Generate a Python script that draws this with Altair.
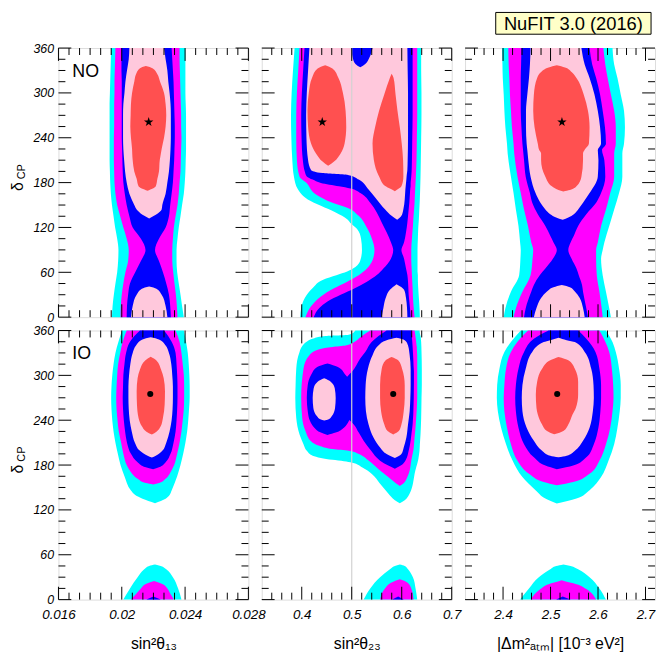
import altair as alt
import pandas as pd

# ---------------- tick values / labels ----------------
Y_MAJOR = [0, 60, 120, 180, 240, 300, 360]
Y_MINOR = [15, 30, 45, 75, 90, 105, 135, 150, 165, 195, 210, 225, 255, 270, 285, 315, 330, 345]
X13_MAJOR = [0.016, 0.02, 0.024, 0.028]
X13_MINOR = [0.016667, 0.017333, 0.018, 0.018667, 0.019333, 0.020667, 0.021333, 0.022,
             0.022667, 0.023333, 0.024667, 0.025333, 0.026, 0.026667, 0.027333]
X23_MAJOR = [0.4, 0.5, 0.6, 0.7]
X23_MINOR = [0.34, 0.36, 0.38, 0.42, 0.44, 0.46, 0.48, 0.52, 0.54, 0.56, 0.58, 0.62, 0.64, 0.66, 0.68]
XDM_MAJOR = [2.4, 2.5, 2.6, 2.7]
XDM_MINOR = [2.34, 2.36, 2.38, 2.42, 2.44, 2.46, 2.48, 2.52, 2.54, 2.56, 2.58, 2.62, 2.64, 2.66, 2.68]
MID_LINE = [0.5]

# ---------------- best-fit points ----------------
NO_BEST = {"s13": (0.0217, 261), "s23": (0.441, 261), "dm": (2.524, 261)}
IO_BEST = {"s13": (0.0218, 275), "s23": (0.583, 275), "dm": (2.514, 275)}

# ---------------- contour regions: (delta_CP, left, right) ----------------
# NO, sin^2 theta13
NO13_CYAN = [(0, 0.01938, 0.02392), (15, 0.01942, 0.02381), (30, 0.0195, 0.02371), (45, 0.0196, 0.0236),
             (60, 0.01971, 0.0235), (75, 0.01977, 0.02346), (90, 0.01979, 0.02346), (105, 0.01971, 0.02352),
             (120, 0.01958, 0.0236), (135, 0.01948, 0.02371), (150, 0.01938, 0.02381), (165, 0.01931, 0.02392),
             (180, 0.01927, 0.02398), (195, 0.01925, 0.02402), (210, 0.01923, 0.02404), (225, 0.01923, 0.02406),
             (240, 0.01923, 0.02406), (255, 0.01923, 0.02406), (270, 0.01923, 0.02406), (285, 0.01923, 0.02404),
             (300, 0.01925, 0.02402), (315, 0.01927, 0.02402), (330, 0.01929, 0.02402), (345, 0.01931, 0.02402),
             (360, 0.01933, 0.02402)]
NO13_MAG = [(0, 0.01992, 0.02352), (15, 0.01994, 0.02348), (30, 0.02, 0.02342), (45, 0.0201, 0.02333),
            (60, 0.02023, 0.02325), (75, 0.0204, 0.02319), (90, 0.02044, 0.02319), (105, 0.02031, 0.02323),
            (120, 0.0201, 0.02329), (135, 0.0199, 0.0234), (150, 0.01971, 0.02352), (165, 0.0196, 0.0236),
            (180, 0.01954, 0.02365), (195, 0.01952, 0.02371), (210, 0.0195, 0.02373), (225, 0.0195, 0.02375),
            (240, 0.0195, 0.02377), (255, 0.01952, 0.02375), (270, 0.01952, 0.02375), (285, 0.01952, 0.02373),
            (300, 0.01954, 0.02371), (315, 0.01954, 0.02369), (330, 0.01956, 0.02367), (345, 0.01958, 0.02365),
            (360, 0.0196, 0.02365)]
NO13_BLUE = [(0, 0.02031, 0.0231), (15, 0.02033, 0.02306), (30, 0.0204, 0.02298), (45, 0.02052, 0.02281),
             (60, 0.02085, 0.0226), (75, 0.02121, 0.02235), (90, 0.0215, 0.0221), (105, 0.02121, 0.02235),
             (120, 0.02069, 0.02277), (135, 0.02048, 0.02298), (150, 0.02031, 0.02306), (165, 0.02019, 0.02315),
             (180, 0.0201, 0.02323), (195, 0.02006, 0.02327), (210, 0.02004, 0.02331), (225, 0.02002, 0.02333),
             (240, 0.02, 0.02335), (255, 0.02, 0.02335), (270, 0.02, 0.02333), (285, 0.02, 0.02331),
             (300, 0.02, 0.02329), (315, 0.02, 0.02327), (330, 0.01998, 0.02323), (345, 0.01998, 0.02319),
             (360, 0.01998, 0.02315)]
NO13_PINK_UP = [(132, 0.02173, 0.02173), (137, 0.02131, 0.02215), (144, 0.02094, 0.02252), (150, 0.02079, 0.02256),
                (165, 0.02048, 0.02277), (180, 0.02031, 0.02288), (195, 0.02021, 0.02298), (210, 0.02015, 0.02304),
                (225, 0.0201, 0.02308), (240, 0.02008, 0.0231), (255, 0.02008, 0.0231), (270, 0.02008, 0.0231),
                (285, 0.0201, 0.02308), (300, 0.02017, 0.02302), (315, 0.02023, 0.02294), (330, 0.02033, 0.02288),
                (345, 0.02044, 0.02277), (360, 0.02048, 0.02267)]
NO13_PINK_LO = [(0, 0.02058, 0.02288), (15, 0.02069, 0.02277), (30, 0.02094, 0.02252), (38, 0.02127, 0.02219),
                (41, 0.02173, 0.02173)]
NO13_RED = [(169, 0.02163, 0.02163), (175, 0.02106, 0.02215), (185, 0.02094, 0.02225), (195, 0.02079, 0.02235),
            (210, 0.02069, 0.0224), (215, 0.02067, 0.02244), (225, 0.02065, 0.02252), (240, 0.02058, 0.02267),
            (255, 0.02054, 0.02277), (270, 0.02056, 0.02281), (285, 0.02058, 0.02277), (300, 0.02065, 0.02267),
            (315, 0.02079, 0.02242), (325, 0.0209, 0.02225), (333, 0.02115, 0.02194), (336, 0.02152, 0.02152)]

# NO, sin^2 theta23
NO23_CYAN = [(0, 0.3969, 0.6362), (12, 0.3989, 0.6356), (25.5, 0.4061, 0.6343), (39, 0.4219, 0.633),
             (50, 0.4429, 0.6323), (56, 0.4692, 0.6323), (61, 0.4909, 0.6316), (67, 0.5074, 0.6316),
             (76, 0.5172, 0.6316), (90, 0.5205, 0.6316), (105, 0.5186, 0.6323), (118, 0.5107, 0.633),
             (124.5, 0.4995, 0.6336), (131, 0.4909, 0.6343), (140, 0.4679, 0.6349), (149, 0.4383, 0.6356),
             (157.5, 0.412, 0.6362), (171, 0.3923, 0.6369), (188, 0.3844, 0.6376), (210, 0.3811, 0.6382),
             (240, 0.3792, 0.6389), (270, 0.3785, 0.6395), (300, 0.3798, 0.6395), (330, 0.3825, 0.6389),
             (360, 0.3857, 0.6389)]
NO23_MAG = [(0, 0.4074, 0.6257), (14.5, 0.4186, 0.6237), (27.7, 0.4383, 0.6224), (38.7, 0.4646, 0.6218),
            (47.5, 0.4909, 0.6211), (56, 0.514, 0.6204), (65, 0.5304, 0.6198), (76, 0.5416, 0.6191),
            (90, 0.5455, 0.6191), (105, 0.5403, 0.6204), (122, 0.5284, 0.6224), (135.5, 0.514, 0.6237),
            (146.5, 0.4909, 0.625), (153, 0.4614, 0.6257), (164, 0.4285, 0.6264), (180, 0.4088, 0.6277),
            (188, 0.3956, 0.6283), (210, 0.3903, 0.6296), (240, 0.389, 0.6303), (270, 0.389, 0.631),
            (300, 0.3903, 0.631), (330, 0.393, 0.631), (360, 0.3956, 0.631)]
NO23_BLUE = [(0, 0.4239, 0.6178), (12.3, 0.4351, 0.6165), (21, 0.4515, 0.6152), (29.9, 0.4778, 0.6139),
             (38.7, 0.5061, 0.6133), (47.5, 0.5304, 0.6126), (56.3, 0.5501, 0.6113), (65, 0.5633, 0.6086),
             (78.3, 0.5784, 0.6047), (89.8, 0.583, 0.5994), (100.3, 0.5784, 0.6047), (113.5, 0.5698, 0.6086),
             (126.7, 0.56, 0.6113), (140, 0.5501, 0.6133), (153, 0.537, 0.6152), (166, 0.5172, 0.6165),
             (172, 0.4975, 0.6172), (175, 0.4745, 0.6178), (179.5, 0.4383, 0.6178), (184, 0.4219, 0.6185),
             (188.3, 0.4101, 0.6191), (195, 0.4061, 0.6198), (210, 0.4022, 0.6204), (240, 0.3996, 0.6211),
             (270, 0.3989, 0.6218), (300, 0.4002, 0.6218), (330, 0.4028, 0.6218), (360, 0.4055, 0.6218)]
NO23_PINK_UP = [(130.2, 0.5909, 0.5909), (135.5, 0.5797, 0.5994), (144.3, 0.5665, 0.6033), (157.5, 0.5501, 0.606),
                (170.7, 0.5337, 0.6073), (184, 0.514, 0.6093), (190, 0.4942, 0.61), (192.7, 0.4416, 0.6106),
                (197, 0.4186, 0.6113), (210, 0.4127, 0.6119), (240, 0.4094, 0.6126), (270, 0.4088, 0.6126),
                (300, 0.4101, 0.6126), (330, 0.4127, 0.6119), (360, 0.4153, 0.6113)]
NO23_PINK_LO = [(0, 0.56, 0.6113), (12.3, 0.5633, 0.6106), (25.5, 0.5679, 0.6086), (36.5, 0.5764, 0.6047),
                (44, 0.5896, 0.5896)]
NO23_BLUE_NOTCH = [(334.4, 0.5172, 0.5172), (338.8, 0.5074, 0.5271), (346.7, 0.5021, 0.535), (360, 0.4995, 0.5416)]
NO23_RED_L = [(202.4, 0.4528, 0.4528), (208.1, 0.4416, 0.4646), (219.1, 0.4285, 0.4778), (232.3, 0.4186, 0.4857),
              (254.3, 0.4127, 0.489), (276.3, 0.4114, 0.4877), (300, 0.414, 0.4824), (320.3, 0.4206, 0.4732),
              (332.6, 0.4318, 0.4614), (335, 0.4383, 0.4548), (337, 0.4469, 0.4469)]
NO23_RED_R = [(168.5, 0.5863, 0.5863), (172, 0.5764, 0.5942), (175.1, 0.5679, 0.5994), (188.3, 0.5547, 0.6033),
              (210.3, 0.5442, 0.6027), (232.3, 0.5416, 0.6), (254.3, 0.5468, 0.5961), (276.3, 0.5547, 0.5915),
              (298.3, 0.5652, 0.5876), (320.3, 0.5764, 0.5836), (325.6, 0.5797, 0.5797)]

# NO, |dm^2_atm|
NODM_CYAN = [(0, 2.4014, 2.6271), (12, 2.4049, 2.6236), (34, 2.4166, 2.6167), (56, 2.4339, 2.6098),
             (78, 2.4366, 2.6064), (90, 2.4373, 2.6098), (100, 2.4359, 2.6133), (122, 2.4325, 2.6236),
             (144, 2.427, 2.634), (166, 2.4221, 2.6443), (188, 2.4166, 2.6512), (219, 2.4097, 2.6512),
             (232, 2.4083, 2.6547), (254, 2.4049, 2.6567), (276, 2.4028, 2.6547), (298, 2.4014, 2.6478),
             (320, 2.3994, 2.6409), (338, 2.3987, 2.634), (360, 2.398, 2.6305)]
NODM_MAG = [(0, 2.4221, 2.6098), (12, 2.427, 2.6077), (34, 2.4408, 2.6029), (56, 2.458, 2.5974),
            (78, 2.4621, 2.596), (90, 2.4635, 2.596), (100, 2.4594, 2.5995), (122, 2.4525, 2.6064),
            (144, 2.4442, 2.6167), (166, 2.4373, 2.6257), (188, 2.4304, 2.634), (219, 2.4235, 2.634),
            (232, 2.4221, 2.6374), (254, 2.4187, 2.6374), (276, 2.4166, 2.634), (298, 2.4145, 2.6271),
            (320, 2.4132, 2.6202), (338, 2.4118, 2.6153), (360, 2.4111, 2.6112)]
NODM_BLUE = [(0, 2.4442, 2.5788), (12, 2.4477, 2.5753), (34, 2.4594, 2.5684), (43, 2.4649, 2.5663),
             (56, 2.4773, 2.5594), (65, 2.4891, 2.5546), (78, 2.5049, 2.5443), (90, 2.5132, 2.5374),
             (100, 2.5063, 2.5422), (109, 2.4994, 2.5491), (122, 2.4891, 2.5581), (137.7, 2.4732, 2.5753),
             (153, 2.4615, 2.596), (166, 2.4566, 2.6064), (188, 2.4477, 2.6153), (210, 2.4442, 2.6133),
             (223.5, 2.4421, 2.6084), (232, 2.4408, 2.6167), (254, 2.4387, 2.6146), (276, 2.4373, 2.6098),
             (298, 2.4373, 2.6043), (320, 2.4373, 2.596), (338, 2.438, 2.5877), (360, 2.4387, 2.5822)]
NODM_PINK_UP = [(130.2, 2.5256, 2.5256), (133.3, 2.5118, 2.5374), (137.7, 2.4994, 2.5491), (144, 2.4891, 2.5581),
                (153, 2.4787, 2.5684), (166, 2.4684, 2.5822), (188, 2.458, 2.5995), (210, 2.4532, 2.6009),
                (223.5, 2.4511, 2.5995), (232, 2.4497, 2.6064), (254, 2.4483, 2.6043), (276, 2.4483, 2.5995),
                (298, 2.4511, 2.5925), (320, 2.4546, 2.5822), (338, 2.4566, 2.5719), (360, 2.458, 2.565)]
NODM_PINK_LO = [(0, 2.4649, 2.5719), (12.3, 2.4704, 2.5684), (25.5, 2.4801, 2.5615), (34.3, 2.4925, 2.5512),
                (40, 2.5063, 2.5408), (43, 2.5236, 2.5236)]
NODM_RED = [(168, 2.527, 2.527), (170, 2.5167, 2.5408), (175, 2.5029, 2.5546), (188, 2.4891, 2.565),
            (210, 2.4801, 2.5684), (219, 2.4801, 2.5684), (224, 2.4759, 2.5719), (232, 2.4732, 2.5808),
            (254, 2.4663, 2.5822), (276, 2.4635, 2.5788), (298, 2.4649, 2.5698), (320, 2.4718, 2.5546),
            (328, 2.4801, 2.5443), (334, 2.4959, 2.5305), (337, 2.5132, 2.5132)]

# IO, sin^2 theta13
IO13_CYAN = [(129, 0.0221, 0.0221), (135, 0.02131, 0.02277), (140, 0.02085, 0.02302), (146, 0.02058, 0.02315),
             (165, 0.02017, 0.0235), (180, 0.01992, 0.02371), (195, 0.01975, 0.02388), (210, 0.0196, 0.02402),
             (225, 0.01948, 0.02413), (240, 0.0194, 0.0242), (255, 0.01935, 0.02425), (270, 0.01933, 0.02429),
             (285, 0.01935, 0.02429), (300, 0.0194, 0.02427), (315, 0.01948, 0.02423), (330, 0.0196, 0.02417),
             (345, 0.01979, 0.02406), (360, 0.02002, 0.02392)]
IO13_CYAN_B = [(0, 0.0201, 0.02377), (15, 0.02052, 0.02356), (30, 0.021, 0.02323), (40.5, 0.02142, 0.02281),
               (45, 0.02173, 0.02246), (47, 0.0221, 0.0221)]
IO13_MAG = [(154, 0.02198, 0.02198), (156, 0.02152, 0.02235), (161.7, 0.021, 0.02277), (170.5, 0.02058, 0.02308),
            (180, 0.02031, 0.02331), (195, 0.0201, 0.0235), (210, 0.01996, 0.02365), (225, 0.01981, 0.02377),
            (240, 0.01973, 0.02385), (255, 0.01967, 0.02392), (270, 0.01965, 0.02394), (285, 0.01967, 0.02394),
            (300, 0.01971, 0.02392), (315, 0.01977, 0.02385), (330, 0.0199, 0.02377), (345, 0.02006, 0.02365),
            (360, 0.02031, 0.0234)]
IO13_MAG_B = [(0, 0.02058, 0.02329), (7.5, 0.0209, 0.02308), (15, 0.02121, 0.02288), (21, 0.02152, 0.02256),
              (25, 0.02204, 0.02204)]
IO13_BLUE = [(174.5, 0.02198, 0.02198), (177, 0.02152, 0.02235), (183.7, 0.021, 0.02277), (195, 0.02058, 0.02308),
             (210, 0.02033, 0.02327), (225, 0.02021, 0.0234), (240, 0.02013, 0.02346), (255, 0.02008, 0.0235),
             (270, 0.02006, 0.02352), (285, 0.02008, 0.02352), (300, 0.0201, 0.0235), (315, 0.02017, 0.02346),
             (330, 0.02027, 0.0234), (345, 0.02052, 0.02315), (360, 0.02115, 0.02267)]
IO13_BLUE_B = [(0, 0.02156, 0.02246), (4, 0.022, 0.022)]
IO13_PINK = [(190, 0.0219, 0.0219), (192.5, 0.02163, 0.02215), (199, 0.02115, 0.02256), (210, 0.02083, 0.02281),
             (225, 0.02063, 0.02302), (240, 0.0205, 0.02315), (255, 0.02044, 0.02321), (270, 0.02042, 0.02323),
             (285, 0.02042, 0.02323), (300, 0.02046, 0.02319), (315, 0.02054, 0.02313), (330, 0.02069, 0.02298),
             (340, 0.0209, 0.02277), (348, 0.02131, 0.02235), (351, 0.02183, 0.02183)]
IO13_RED = [(221, 0.0219, 0.0219), (224.7, 0.02156, 0.02219), (232, 0.02127, 0.02246), (243, 0.02106, 0.0226),
            (261, 0.02096, 0.02271), (278.5, 0.02094, 0.02273), (296, 0.021, 0.02265), (308, 0.02115, 0.02248),
            (320, 0.02148, 0.02219), (325, 0.02183, 0.02183)]

# IO, sin^2 theta23
IO23_CYAN = [(129, 0.5961, 0.5961), (133, 0.5863, 0.606), (142, 0.5731, 0.6159), (155, 0.5567, 0.6224),
             (168, 0.5403, 0.6257), (177, 0.5205, 0.629), (183, 0.5008, 0.6316), (185, 0.4844, 0.6323),
             (187, 0.4614, 0.633), (189.5, 0.4383, 0.6336), (192.5, 0.4219, 0.6343), (199, 0.4101, 0.6356),
             (208, 0.4035, 0.6363), (221, 0.3956, 0.6376), (243, 0.389, 0.6389), (269.6, 0.3871, 0.6396),
             (287, 0.3877, 0.6402), (309, 0.389, 0.6402), (331.4, 0.3956, 0.6396), (344.5, 0.4088, 0.6389),
             (349.8, 0.4252, 0.6382), (352.5, 0.4482, 0.6376), (354.2, 0.4942, 0.6369), (360, 0.5074, 0.6356)]
IO23_CYAN_B = [(0, 0.5238, 0.631), (15, 0.537, 0.6277), (30, 0.5567, 0.6224), (40.5, 0.5764, 0.6126),
               (45, 0.5863, 0.606), (47, 0.5961, 0.5961)]
IO23_MAG = [(152, 0.5961, 0.5961), (155, 0.5896, 0.6027), (164, 0.5731, 0.6113), (172.7, 0.5567, 0.6159),
            (186, 0.5337, 0.6191), (194.7, 0.514, 0.6218), (199, 0.4942, 0.6231), (201.4, 0.4614, 0.6237),
            (205.8, 0.4351, 0.6244), (212, 0.4186, 0.6251), (225.6, 0.4074, 0.627), (243, 0.4009, 0.629),
            (270, 0.3989, 0.631), (309, 0.4035, 0.631), (327, 0.4153, 0.631), (335, 0.4351, 0.6303),
            (338, 0.4614, 0.6303), (340, 0.4877, 0.6297), (345, 0.5061, 0.629), (351, 0.5172, 0.6277),
            (360, 0.537, 0.6257)]
IO23_MAG_B = [(0, 0.5567, 0.6237), (15, 0.5665, 0.6191), (23, 0.5797, 0.6113), (27.3, 0.5961, 0.5961)]
IO23_BLUE_R = [(175, 0.5863, 0.5863), (179.3, 0.5731, 0.5981), (185.9, 0.5567, 0.6073), (199, 0.5389, 0.6139),
               (212.4, 0.5238, 0.6178), (223.4, 0.514, 0.6198), (234.4, 0.5041, 0.6218), (241, 0.4942, 0.6224),
               (247.6, 0.4844, 0.6231), (291.6, 0.4844, 0.6244), (298, 0.4909, 0.6244), (305, 0.5008, 0.6244),
               (313, 0.5087, 0.6237), (322.5, 0.517, 0.6231), (331.4, 0.5271, 0.6224), (345, 0.5403, 0.6211),
               (360, 0.5698, 0.6191)]
IO23_BLUE_L = [(220.3, 0.4515, 0.4515), (223.4, 0.4383, 0.4679), (230, 0.4252, 0.4844), (238.8, 0.4166, 0.4942),
               (252, 0.412, 0.5008), (269.6, 0.4101, 0.5008), (287.2, 0.412, 0.5008), (300.5, 0.4186, 0.4877),
               (311.5, 0.4318, 0.4712), (315.9, 0.4515, 0.4515)]
IO23_BLUE_B = [(0, 0.581, 0.604), (4, 0.5929, 0.5929)]
IO23_PINK_L = [(239.7, 0.4449, 0.4449), (241, 0.4383, 0.4528), (245.4, 0.4305, 0.46), (256.4, 0.4232, 0.4666),
               (269.6, 0.4219, 0.4679), (282.9, 0.4239, 0.466), (291.6, 0.4318, 0.458), (296, 0.4449, 0.4449)]
IO23_PINK_R = [(189.5, 0.5863, 0.5863), (194.7, 0.5698, 0.5994), (203.6, 0.5567, 0.604), (216.8, 0.5435, 0.6093),
               (234.4, 0.5337, 0.6126), (252, 0.5284, 0.6159), (269.6, 0.5271, 0.6172), (287, 0.5278, 0.6178),
               (309, 0.5324, 0.6178), (326.9, 0.5416, 0.6159), (340, 0.5534, 0.6126), (347, 0.5698, 0.606),
               (350.3, 0.5896, 0.5896)]
IO23_RED = [(221, 0.583, 0.583), (225.6, 0.5718, 0.5942), (234.4, 0.5652, 0.5994), (252, 0.5587, 0.604),
            (269.6, 0.5567, 0.606), (287, 0.5567, 0.606), (309, 0.56, 0.6007), (320.3, 0.5679, 0.5929),
            (324.7, 0.5797, 0.5797)]

# IO, |dm^2_atm|
IODM_CYAN = [(128.7, 2.5132, 2.5132), (135.3, 2.4891, 2.5546), (146.3, 2.4684, 2.5822), (163.9, 2.4408, 2.6064),
             (186, 2.42, 2.6222), (208, 2.4063, 2.634), (230, 2.3959, 2.6409), (252, 2.389, 2.6457),
             (269.6, 2.3869, 2.6478), (287, 2.3876, 2.6478), (309, 2.3924, 2.6443), (331.4, 2.4028, 2.6374),
             (344.5, 2.4166, 2.6305), (360, 2.4373, 2.6167)]
IODM_CYAN_B = [(0, 2.4359, 2.6167), (15, 2.4546, 2.6029), (30, 2.4753, 2.5822), (40.5, 2.4994, 2.5581),
               (44.9, 2.5118, 2.5422), (47, 2.527, 2.527)]
IODM_MAG = [(152.9, 2.5132, 2.5132), (157.3, 2.4856, 2.5477), (168.3, 2.4546, 2.5822), (185.9, 2.4304, 2.6029),
            (208, 2.4166, 2.6167), (230, 2.4083, 2.6257), (252, 2.4028, 2.6305), (269.6, 2.4014, 2.6326),
            (287, 2.4028, 2.6319), (309, 2.4063, 2.6291), (331.4, 2.4166, 2.6236), (345, 2.4304, 2.6153),
            (360, 2.4525, 2.6029)]
IODM_MAG_B = [(0, 2.458, 2.596), (14.1, 2.4787, 2.5753), (20.7, 2.496, 2.5546), (22.9, 2.5077, 2.5408),
              (26, 2.5236, 2.5236)]
IODM_BLUE = [(174.5, 2.5132, 2.5132), (179.3, 2.4891, 2.5477), (190.3, 2.4649, 2.5753), (208, 2.4442, 2.5912),
             (230, 2.4325, 2.6008), (252, 2.427, 2.605), (269.6, 2.4256, 2.6064), (287, 2.427, 2.6064),
             (309, 2.4325, 2.6029), (331.4, 2.4442, 2.5946), (349, 2.4649, 2.5753), (360, 2.496, 2.5581)]
IODM_BLUE_B = [(0, 2.5118, 2.5422), (4, 2.5256, 2.5256)]
IODM_PINK = [(190.3, 2.5167, 2.5167), (192.5, 2.4994, 2.5339), (199.2, 2.4822, 2.5512), (212.4, 2.4649, 2.5684),
             (230, 2.4497, 2.5822), (252, 2.4408, 2.5891), (269.6, 2.4394, 2.5912), (287, 2.4408, 2.5905),
             (309, 2.4477, 2.5857), (331.4, 2.4615, 2.5719), (344.5, 2.4856, 2.5512), (347, 2.4994, 2.5339),
             (350.3, 2.5167, 2.5167)]
IODM_RED = [(221.2, 2.5077, 2.5077), (225.6, 2.4925, 2.527), (234.4, 2.4822, 2.5374), (247.6, 2.4732, 2.5463),
            (256.4, 2.4704, 2.5532), (274.1, 2.469, 2.5581), (291.6, 2.4718, 2.5581), (309, 2.4822, 2.5512),
            (320.3, 2.4994, 2.5374), (324.7, 2.5167, 2.5167)]

# ---------------- styling ----------------
CYAN, MAGENTA, BLUE, PINK, RED = "#00FFFF", "#FF00FF", "#0000FF", "#FFC8DC", "#FF5050"
FONT = "Liberation Sans"
W, H = 192, 272
MAJ_LEN, MIN_LEN = 13, 7
STAR = ("M0,-1L0.2245,-0.309L0.9511,-0.309L0.3633,0.118L0.5878,0.809L0,0.382"
        "L-0.5878,0.809L-0.3633,0.118L-0.9511,-0.309L-0.2245,-0.309Z")

YS = alt.Scale(domain=[0, 360], nice=False, zero=False)
XSCALES = {
    "s13": alt.Scale(domain=[0.016, 0.028], nice=False, zero=False),
    "s23": alt.Scale(domain=[0.32, 0.7], nice=False, zero=False),
    "dm": alt.Scale(domain=[2.32, 2.72], nice=False, zero=False),
}
XTICKS = {"s13": (X13_MAJOR, X13_MINOR), "s23": (X23_MAJOR, X23_MINOR), "dm": (XDM_MAJOR, XDM_MINOR)}
XTITLES = {"s13": "sin²θ₁₃", "s23": "sin²θ₂₃", "dm": "|Δm²ₐₜₘ| [10⁻³ eV²]"}


def x_axis(key, show):
    if not show:
        return None
    return alt.Axis(values=XTICKS[key][0], format="~g", ticks=False, tickSize=0, domain=False, grid=False,
                    labelFont=FONT, labelFontStyle="italic", labelFontSize=13.5, labelColor="black",
                    labelFlush=False, labelOverlap=False, labelPadding=8,
                    title=XTITLES[key], titleFont=FONT, titleFontSize=16, titleFontWeight="normal",
                    titleColor="black", titlePadding=14.5)


def y_axis(show):
    if not show:
        return None
    return alt.Axis(values=Y_MAJOR, format="d", ticks=False, tickSize=0, domain=False, grid=False,
                    labelFont=FONT, labelFontStyle="italic", labelFontSize=12.5, labelColor="black",
                    labelPadding=5, labelOverlap=False, title=None)


def panel(key, levels, best, symbol, show_x, show_y, mid_line=False, tag=None, nufit=False):
    xs = XSCALES[key]
    xa = x_axis(key, show_x)
    ya = y_axis(show_y)
    layers = []
    for color, blobs in levels:
        rows = []
        for i, blob in enumerate(blobs):
            for d, lo, hi in blob:
                rows.append({"d": d, "lo": lo, "hi": hi, "blob": i})
        layers.append(
            alt.Chart(pd.DataFrame(rows)).mark_area(
                orient="horizontal", interpolate="monotone", color=color, opacity=1, strokeWidth=0
            ).encode(
                x=alt.X("lo:Q", scale=xs, axis=xa), x2="hi:Q",
                y=alt.Y("d:Q", scale=YS, axis=ya), detail="blob:N")
        )
    if mid_line:
        layers.append(alt.Chart(pd.DataFrame({"v": MID_LINE})).mark_rule(color="#d2d2d2", strokeWidth=1.2)
                      .encode(x=alt.X("v:Q", scale=xs, axis=xa)))
    # inward ticks on all four sides
    xmaj, xmin = XTICKS[key]
    for vals, ln in ((xmaj, MAJ_LEN), (xmin, MIN_LEN)):
        df = pd.DataFrame({"v": vals})
        layers.append(alt.Chart(df).mark_rule(color="black", strokeWidth=1)
                      .encode(x=alt.X("v:Q", scale=xs, axis=xa), y=alt.value(0), y2=alt.value(ln)))
        layers.append(alt.Chart(df).mark_rule(color="black", strokeWidth=1)
                      .encode(x=alt.X("v:Q", scale=xs, axis=xa), y=alt.value(H), y2=alt.value(H - ln)))
    for vals, ln in ((Y_MAJOR, MAJ_LEN), (Y_MINOR, MIN_LEN)):
        df = pd.DataFrame({"v": vals})
        layers.append(alt.Chart(df).mark_rule(color="black", strokeWidth=1)
                      .encode(y=alt.Y("v:Q", scale=YS, axis=ya), x=alt.value(0), x2=alt.value(ln)))
        layers.append(alt.Chart(df).mark_rule(color="black", strokeWidth=1)
                      .encode(y=alt.Y("v:Q", scale=YS, axis=ya), x=alt.value(W), x2=alt.value(W - ln)))
    # best-fit point
    bx, bd = best
    layers.append(
        alt.Chart(pd.DataFrame({"x": [bx], "d": [bd]})).mark_point(
            shape=symbol[0], size=symbol[1], filled=True, color="black", opacity=1, strokeWidth=0
        ).encode(x=alt.X("x:Q", scale=xs, axis=xa), y=alt.Y("d:Q", scale=YS, axis=ya))
    )
    if tag:
        layers.append(alt.Chart(pd.DataFrame({"t": [tag]})).mark_text(
            align="left", baseline="middle", font=FONT, fontSize=18, color="black"
        ).encode(text="t:N", x=alt.value(14), y=alt.value(24)))
    if show_y:
        layers.append(alt.Chart(pd.DataFrame({"t": ["δ"]})).mark_text(
            align="center", baseline="middle", font=FONT, fontSize=16, color="black", angle=270
        ).encode(text="t:N", x=alt.value(-41), y=alt.value(140)))
        layers.append(alt.Chart(pd.DataFrame({"t": ["CP"]})).mark_text(
            align="center", baseline="middle", font=FONT, fontSize=11, color="black", angle=270
        ).encode(text="t:N", x=alt.value(-37), y=alt.value(125)))
    if nufit:
        layers.append(alt.Chart(pd.DataFrame({"t": ["NuFIT 3.0 (2016)"]})).mark_rect(
            fill="#FFFFC8", stroke="black", strokeWidth=1
        ).encode(x=alt.value(31), x2=alt.value(188), y=alt.value(-36), y2=alt.value(-14)))
        layers.append(alt.Chart(pd.DataFrame({"t": ["NuFIT 3.0 (2016)"]})).mark_text(
            align="center", baseline="middle", font=FONT, fontSize=18.5, color="black"
        ).encode(text="t:N", x=alt.value(109.5), y=alt.value(-24.5)))
    return alt.layer(*layers).properties(width=W, height=H)


STAR_SYM = (STAR, 100)
DOT_SYM = ("circle", 38)

p1 = panel("s13", [(CYAN, [NO13_CYAN]), (MAGENTA, [NO13_MAG]), (BLUE, [NO13_BLUE]),
                   (PINK, [NO13_PINK_UP, NO13_PINK_LO]), (RED, [NO13_RED])],
           NO_BEST["s13"], STAR_SYM, False, True, tag="NO")
p2 = panel("s23", [(CYAN, [NO23_CYAN]), (MAGENTA, [NO23_MAG]), (BLUE, [NO23_BLUE]),
                   (PINK, [NO23_PINK_UP, NO23_PINK_LO]), (BLUE, [NO23_BLUE_NOTCH]),
                   (RED, [NO23_RED_L, NO23_RED_R])],
           NO_BEST["s23"], STAR_SYM, False, False, mid_line=True)
p3 = panel("dm", [(CYAN, [NODM_CYAN]), (MAGENTA, [NODM_MAG]), (BLUE, [NODM_BLUE]),
                  (PINK, [NODM_PINK_UP, NODM_PINK_LO]), (RED, [NODM_RED])],
           NO_BEST["dm"], STAR_SYM, False, False, nufit=True)
p4 = panel("s13", [(CYAN, [IO13_CYAN, IO13_CYAN_B]), (MAGENTA, [IO13_MAG, IO13_MAG_B]),
                   (BLUE, [IO13_BLUE, IO13_BLUE_B]), (PINK, [IO13_PINK]), (RED, [IO13_RED])],
           IO_BEST["s13"], DOT_SYM, True, True, tag="IO")
p5 = panel("s23", [(CYAN, [IO23_CYAN, IO23_CYAN_B]), (MAGENTA, [IO23_MAG, IO23_MAG_B]),
                   (BLUE, [IO23_BLUE_R, IO23_BLUE_L, IO23_BLUE_B]), (PINK, [IO23_PINK_L, IO23_PINK_R]),
                   (RED, [IO23_RED])],
           IO_BEST["s23"], DOT_SYM, True, False, mid_line=True)
p6 = panel("dm", [(CYAN, [IODM_CYAN, IODM_CYAN_B]), (MAGENTA, [IODM_MAG, IODM_MAG_B]),
                  (BLUE, [IODM_BLUE, IODM_BLUE_B]), (PINK, [IODM_PINK]), (RED, [IODM_RED])],
           IO_BEST["dm"], DOT_SYM, True, False)

chart = alt.concat(p1, p2, p3, p4, p5, p6, columns=3, spacing=13.5, bounds="flush").properties(
    padding={"left": 1, "top": 0, "right": 0, "bottom": 0}
).configure_view(stroke="black", strokeWidth=1.3).configure(background="white")

chart.save("out.html", embed_options={"renderer": "svg", "actions": False})
